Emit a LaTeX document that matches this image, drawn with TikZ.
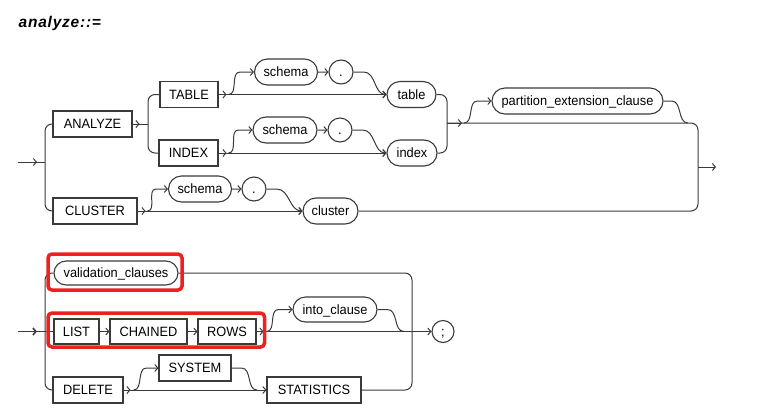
\documentclass[tikz,border=0pt]{standalone}
\usepackage{fontspec}
\setmainfont{Liberation Sans}
\newfontfamily\diagfont[FakeStretch=0.95]{Liberation Sans}
\newfontfamily\titlefont[LetterSpace=5]{Liberation Sans}
\usetikzlibrary{arrows.meta,shapes.misc,calc}
\definecolor{lc}{HTML}{3A3A3A}
\definecolor{hl}{HTML}{EE2020}
\begin{document}
\begin{tikzpicture}[x=1pt,y=-1pt,
  lbl/.style={font=\diagfont\fontsize{13.5}{15}\selectfont, text=black, inner sep=0pt, text height=11pt, text depth=2pt},
  kw/.style={lbl, draw=lc, line width=1.1pt, rectangle, minimum height=26pt},
  nt/.style={lbl, draw=lc, line width=1.1pt, rounded rectangle, minimum height=26pt},
  dotc/.style={lbl, draw=lc, line width=1.1pt, circle, minimum size=24pt},
  ln/.style={draw=lc, line width=1pt},
  arr/.style={ln, -{Straight Barb[length=3pt,width=7pt]}},
  rc/.style={ln, rounded corners=7pt},
  hlbox/.style={draw=hl, line width=3.5pt, rounded corners=4pt}]
\useasboundingbox (0,0) rectangle (773,413);

% title
\node[anchor=base west, inner sep=0pt, font=\titlefont\fontsize{15.5}{18}\selectfont\bfseries\itshape] (title) at (18.5,27.5) {analyze::=};

% ---------- top diagram nodes
\node[kw, minimum width=79pt] (ANALYZE) at (92.5,124) {ANALYZE};
\node[kw, minimum width=58pt] (TABLE) at (189,94.5) {TABLE};
\node[kw, minimum width=59pt] (INDEX) at (188.5,153) {INDEX};
\node[kw, minimum width=84pt] (CLUSTER) at (95,211) {CLUSTER};
\node[nt, minimum width=63pt] (schemaA) at (286,72) {schema};
\node[dotc] (dotA) at (341,72) {.};
\node[nt, minimum width=49pt] (table) at (411.5,94.5) {table};
\node[nt, minimum width=64pt] (schemaB) at (285,130) {schema};
\node[dotc] (dotB) at (340,130) {.};
\node[nt, minimum width=50pt] (index) at (412,153) {index};
\node[nt, minimum width=63pt] (schemaC) at (200,189) {schema};
\node[dotc] (dotC) at (254,189) {.};
\node[nt, minimum width=55pt] (cluster) at (330.5,211) {cluster};
\node[nt, minimum width=171pt] (pec) at (577.5,101) {partition\_extension\_clause};

\coordinate (in1) at (18,162);
\coordinate (J1) at (45,162);
\coordinate (jA) at (148,124);
\coordinate (jB) at (447,123);
\coordinate (mP) at (688,123);
\coordinate (xR) at (698,167);
\coordinate (out1) at (716,167);

% entry
\draw[ln] (in1) -- (J1);
\draw[arr] (in1) -- ++(19,0);
\draw[rc] (ANALYZE.west) -| (J1) |- (CLUSTER.west);
% ANALYZE split
\draw[ln] (ANALYZE.east) -- (jA);
\draw[arr] (ANALYZE.east) -- ++(7,0);
\draw[rc] (TABLE.west) -| (jA) |- (INDEX.west);
% TABLE row
\draw[arr] (TABLE.east) -- ++(8,0);
\draw[arr] (TABLE.east) -- (table.west);
\draw[arr] ($(TABLE.east)+(10,0)$) to[out=0,in=180] ($(schemaA.west)+(-14,0)$) -- (schemaA.west);
\draw[arr] (schemaA) -- (dotA);
\draw[arr] (dotA.east) -- ++(10,0) to[out=0,in=180] (table.west);
% INDEX row
\draw[arr] (INDEX.east) -- ++(8,0);
\draw[arr] (INDEX.east) -- (index.west);
\draw[arr] ($(INDEX.east)+(10,0)$) to[out=0,in=180] ($(schemaB.west)+(-14,0)$) -- (schemaB.west);
\draw[arr] (schemaB) -- (dotB);
\draw[arr] (dotB.east) -- ++(10,0) to[out=0,in=180] (index.west);
% CLUSTER row
\draw[arr] (CLUSTER.east) -- ++(8,0);
\draw[arr] (CLUSTER.east) -- (cluster.west);
\draw[arr] ($(CLUSTER.east)+(10,0)$) to[out=0,in=180] ($(schemaC.west)+(-12,0)$) -- (schemaC.west);
\draw[arr] (schemaC) -- (dotC);
\draw[arr] (dotC.east) -- ++(10,0) to[out=0,in=180] (cluster.west);
% merge table/index
\draw[rc] (table.east) -| (jB) |- (index.east);
\draw[arr] (jB) -- ++(15,0);
\draw[arr] ($(jB)+(17,0)$) to[out=0,in=180] ($(pec.west)+(-14,0)$) -- (pec.west);
\draw[ln] (pec.east) -- ++(8,0) to[out=0,in=180] (mP);
\draw[rc] (jB) -| (xR) |- (cluster.east);
\draw[arr] (xR) -- (out1);

% ---------- bottom diagram nodes
\node[nt, minimum width=124pt, minimum height=24pt] (val) at (116,273) {validation\_clauses};
\node[kw, minimum width=45pt, minimum height=25pt] (LIST) at (76.5,331.5) {LIST};
\node[kw, minimum width=77pt, minimum height=25pt] (CHAINED) at (148.5,331.5) {CHAINED};
\node[kw, minimum width=58pt, minimum height=25pt] (ROWS) at (227,331.5) {ROWS};
\node[nt, minimum width=84pt, minimum height=25pt] (into) at (335,309.5) {into\_clause};
\node[dotc, minimum size=22pt] (semi) at (443,331.5) {;};
\node[kw, minimum width=70pt] (DELETE) at (88,390) {DELETE};
\node[kw, minimum width=72pt] (SYSTEM) at (195,368) {SYSTEM};
\node[kw, minimum width=94pt] (STATISTICS) at (314,390) {STATISTICS};

\coordinate (in2) at (18,331.5);
\coordinate (J2) at (45,331.5);
\coordinate (mI) at (404,331.5);
\coordinate (J4) at (412,331.5);
\coordinate (mS) at (257,390);

\draw[ln, line width=1.6pt] (in2) -- (J2);
\draw[arr, line width=1.6pt] (in2) -- ++(19,0);
\draw[rc] (val.west) -| (J2) |- (DELETE.west);
\draw[ln] (J2) -- (LIST.west);
\draw[arr] (LIST) -- (CHAINED);
\draw[arr] (CHAINED) -- (ROWS);
\draw[arr] (ROWS.east) -- ++(7,0);
\draw[arr] (ROWS.east) -- (semi.west);
\draw[arr] ($(ROWS.east)+(10,0)$) to[out=0,in=180] ($(into.west)+(-14,0)$) -- (into.west);
\draw[ln] (into.east) -- ++(10,0) to[out=0,in=180] (mI);
\draw[rc] (val.east) -| (J4) |- (STATISTICS.east);
\draw[arr] (DELETE.east) -- ++(7,0);
\draw[arr] (DELETE.east) -- (STATISTICS.west);
\draw[arr] ($(DELETE.east)+(10,0)$) to[out=0,in=180] ($(SYSTEM.west)+(-12,0)$) -- (SYSTEM.west);
\draw[ln] (SYSTEM.east) -- ++(10,0) to[out=0,in=180] (mS);

% highlight boxes
\draw[hlbox] (48,254) rectangle (182,290);
\draw[hlbox] (48,313) rectangle (264.5,347);
\end{tikzpicture}
\end{document}
